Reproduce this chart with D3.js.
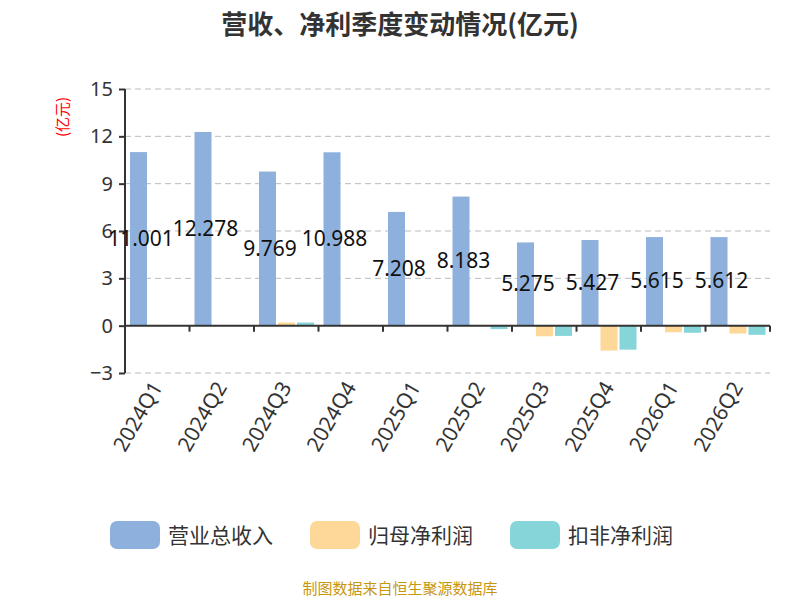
<!DOCTYPE html>
<html>
<head>
<meta charset="utf-8">
<script src="https://cdn.jsdelivr.net/npm/d3@7"></script>
<style>
  body { margin: 0; background: #fff; font-family: "Noto Sans CJK SC", "Noto Sans", sans-serif; }
</style>
</head>
<body>
<svg id="chart" width="800" height="600"></svg>
<script>
// data
var quarters = ["2024Q1","2024Q2","2024Q3","2024Q4","2025Q1","2025Q2","2025Q3","2025Q4","2026Q1","2026Q2"];
var revenue = [11.001, 12.278, 9.769, 10.988, 7.208, 8.183, 5.275, 5.427, 5.615, 5.612];
var netProfit = [0.05, 0.01, 0.2, 0.05, 0.04, 0.05, -0.67, -1.58, -0.42, -0.5];
var deductProfit = [0.02, 0.03, 0.2, 0.03, 0.01, -0.22, -0.65, -1.52, -0.45, -0.58];
var seriesNames = ["营业总收入", "归母净利润", "扣非净利润"];
var colors = ["#8eb0dc", "#fed898", "#86d5d9"];
var yTicks = [-3, 0, 3, 6, 9, 12, 15];

var svg = d3.select("#chart");
var m = { left: 125, right: 770, top: 89, bottom: 373 };

var x = d3.scaleBand().domain(quarters).range([m.left, m.right]);
var y = d3.scaleLinear().domain([-3, 15]).range([m.bottom, m.top]);

svg.append("text").attr("x", 400).attr("y", 34).attr("text-anchor", "middle")
  .attr("font-size", 26).attr("font-weight", "bold").attr("fill", "#333")
  .text("营收、净利季度变动情况(亿元)");

// grid
svg.append("g").selectAll("line").data(yTicks.filter(function (d) { return d !== 0; }))
  .enter().append("line")
  .attr("x1", m.left).attr("x2", m.right)
  .attr("y1", function (d) { return y(d); }).attr("y2", function (d) { return y(d); })
  .attr("stroke", "#bbb").attr("stroke-dasharray", "6,4");

// y axis
var yAxis = svg.append("g").attr("transform", "translate(" + m.left + ",0)")
  .call(d3.axisLeft(y).tickValues(yTicks).tickSize(6).tickPadding(6));
yAxis.selectAll("text").attr("font-size", 20).attr("fill", "#333").attr("font-family", "Noto Sans");
yAxis.selectAll("line, path").attr("stroke", "#333").attr("stroke-width", 2);
yAxis.select(".domain").attr("d", "M0," + m.bottom + "V" + m.top);

svg.append("text").attr("transform", "translate(68,117) rotate(-90)")
  .attr("text-anchor", "middle").attr("font-size", 15).attr("fill", "red").text("(亿元)");

// bars
var data = [revenue, netProfit, deductProfit];
var bw = 17, gap = 2;
data.forEach(function (vals, si) {
  svg.append("g").selectAll("rect").data(vals).enter().append("rect")
    .attr("x", function (d, i) { return x(quarters[i]) + 5 + si * (bw + gap); })
    .attr("width", bw)
    .attr("y", function (d) { return y(Math.max(0, d)); })
    .attr("height", function (d) { return Math.abs(y(d) - y(0)); })
    .attr("fill", colors[si]);
});

// x axis at zero
var xAxis = svg.append("g").attr("transform", "translate(0," + y(0) + ")")
  .call(d3.axisBottom(x).tickSize(6).tickFormat(""));
xAxis.selectAll("line, path").attr("stroke", "#333").attr("stroke-width", 2);
xAxis.selectAll(".tick line").attr("transform", function () {
  return "translate(" + (x.bandwidth() / 2) + ",0)";
});
xAxis.select(".domain").attr("d", "M" + m.left + ",0H" + m.right);

// category labels rotated
svg.append("g").selectAll("text").data(quarters).enter().append("text")
  .attr("transform", function (d) {
    return "translate(" + (x(d) + x.bandwidth() / 2 + 6) + "," + (m.bottom + 14) + ") rotate(-60)";
  })
  .attr("text-anchor", "end").attr("font-size", 21).attr("fill", "#333")
  .attr("font-family", "Noto Sans").text(function (d) { return d; });

// value labels
svg.append("g").selectAll("text").data(revenue).enter().append("text")
  .attr("x", function (d, i) { return x(quarters[i]) + 16; })
  .attr("y", function (d) { return y(d / 2) + 7; })
  .attr("text-anchor", "middle").attr("font-size", 21).attr("fill", "#111")
  .attr("font-family", "Noto Sans")
  .text(function (d) { return d3.format(".3f")(d); });

// legend
var lg = svg.append("g");
var lx = [110, 310, 510];
seriesNames.forEach(function (n, i) {
  lg.append("rect").attr("x", lx[i]).attr("y", 521).attr("width", 50).attr("height", 28)
    .attr("rx", 7).attr("fill", colors[i]);
  lg.append("text").attr("x", lx[i] + 58).attr("y", 543).attr("font-size", 21)
    .attr("fill", "#333").text(n);
});

svg.append("text").attr("x", 400).attr("y", 594).attr("text-anchor", "middle")
  .attr("font-size", 15).attr("fill", "#c8960f").text("制图数据来自恒生聚源数据库");
</script>
</body>
</html>
